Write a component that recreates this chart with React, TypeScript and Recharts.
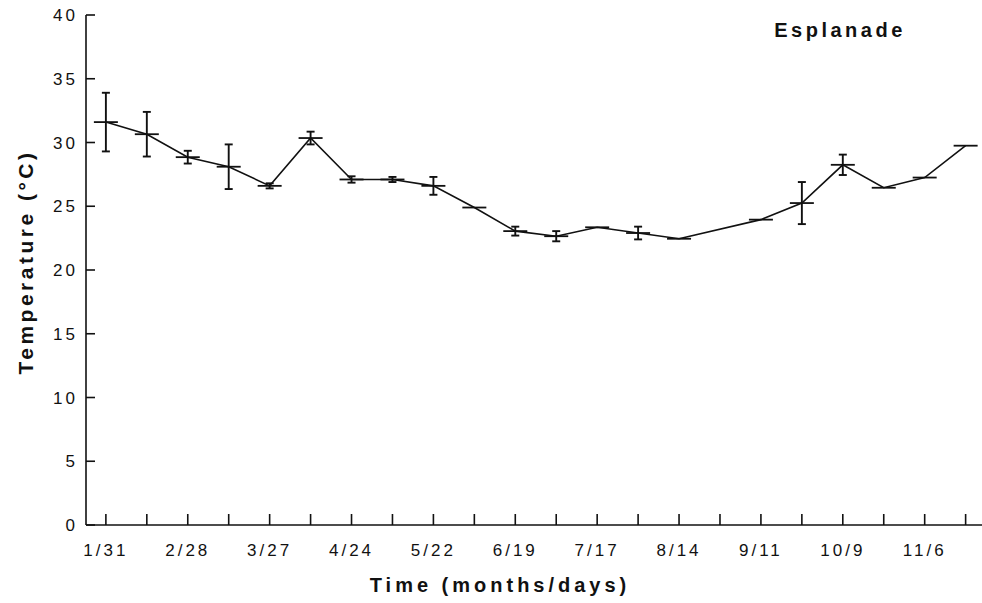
import React from 'react';
import { LineChart, Line, XAxis, YAxis, ErrorBar } from 'recharts';

// Sampling days, counted from 31 January (two-week intervals, one visit skipped)
const sampleDays = [0, 14, 28, 42, 56, 70, 84, 98, 112, 126, 140, 154, 168, 182, 196, 224, 238, 252, 266, 280, 294];
// Mean water temperature (°C) at each visit
const meanTemp = [31.6, 30.65, 28.85, 28.1, 26.6, 30.35, 27.1, 27.1, 26.6, 24.9, 23.05, 22.65, 23.35, 22.9, 22.45, 23.95, 25.25, 28.25, 26.45, 27.25, 29.75];
// Spread shown as error bars (±°C)
const tempErr = [2.3, 1.75, 0.5, 1.75, 0.2, 0.5, 0.25, 0.2, 0.7, 0, 0.35, 0.4, 0, 0.5, 0, 0, 1.65, 0.8, 0, 0, 0];

// Axis ticks every 14 days; every other one carries a date label
const tickDays = [0, 14, 28, 42, 56, 70, 84, 98, 112, 126, 140, 154, 168, 182, 196, 210, 224, 238, 252, 266, 280, 294];
const dateLabels = ['1/31', '2/28', '3/27', '4/24', '5/22', '6/19', '7/17', '8/14', '9/11', '10/9', '11/6'];
const tempTicks = [0, 5, 10, 15, 20, 25, 30, 35, 40];

const data = sampleDays.map((day, i) => ({ day, temp: meanTemp[i], err: tempErr[i] }));

const FONT = '"Liberation Sans", Arial, Helvetica, sans-serif';
const INK = '#111';

const XTick = (props: any) => {
  const { x, y, index } = props;
  const label = index % 2 === 0 ? dateLabels[index / 2] : '';
  return (
    <g>
      <line x1={x} y1={y} x2={x} y2={y - 11} stroke={INK} strokeWidth={1.6} />
      {label ? (
        <text x={x} y={y + 31} textAnchor="middle" fontFamily={FONT} fontSize={17} letterSpacing={3} fill={INK}>
          {label}
        </text>
      ) : null}
    </g>
  );
};

const YTick = (props: any) => {
  const { x, y, payload } = props;
  return (
    <g>
      <line x1={x} y1={y} x2={x + 9} y2={y} stroke={INK} strokeWidth={1.6} />
      <text x={x - 8} y={y + 6} textAnchor="end" fontFamily={FONT} fontSize={17} letterSpacing={3} fill={INK}>
        {payload.value}
      </text>
    </g>
  );
};

const MeanMark = (props: any) => {
  const { cx, cy, index } = props;
  if (cx == null || cy == null) return <g key={`m-${index}`} />;
  return <line key={`m-${index}`} x1={cx - 12} y1={cy} x2={cx + 12} y2={cy} stroke={INK} strokeWidth={1.8} />;
};

export default function App() {
  return (
    <div style={{ position: 'absolute', left: 0, top: 0, background: '#fff' }}>
      <LineChart width={982} height={603} data={data} margin={{ top: 15, right: 0, bottom: 0, left: 0 }}>
        <XAxis
          type="number"
          dataKey="day"
          domain={[-6.8, 299.6]}
          ticks={tickDays}
          interval={0}
          allowDataOverflow
          height={78}
          tickSize={0}
          tickMargin={0}
          tickLine={false}
          tick={<XTick />}
          axisLine={{ stroke: INK, strokeWidth: 1.6 }}
        />
        <YAxis
          type="number"
          domain={[0, 40]}
          ticks={tempTicks}
          interval={0}
          width={86}
          tickSize={0}
          tickMargin={0}
          tickLine={false}
          tick={<YTick />}
          axisLine={{ stroke: INK, strokeWidth: 1.6 }}
        />
        <Line
          type="linear"
          dataKey="temp"
          stroke={INK}
          strokeWidth={1.6}
          dot={<MeanMark />}
          activeDot={false}
          isAnimationActive={false}
        >
          <ErrorBar dataKey="err" direction="y" width={4} stroke={INK} strokeWidth={1.9} isAnimationActive={false} />
        </Line>
        <text x={840} y={37} textAnchor="middle" fontFamily={FONT} fontSize={20} fontWeight="bold" letterSpacing={3.5} fill={INK}>
          Esplanade
        </text>
        <text x={500} y={592} textAnchor="middle" fontFamily={FONT} fontSize={20} fontWeight="bold" letterSpacing={4} fill={INK}>
          Time (months/days)
        </text>
        <text
          x={0}
          y={0}
          transform="translate(33, 262) rotate(-90)"
          textAnchor="middle"
          fontFamily={FONT}
          fontSize={21}
          fontWeight="bold"
          letterSpacing={3.5}
          fill={INK}
        >
          Temperature (°C)
        </text>
      </LineChart>
    </div>
  );
}
